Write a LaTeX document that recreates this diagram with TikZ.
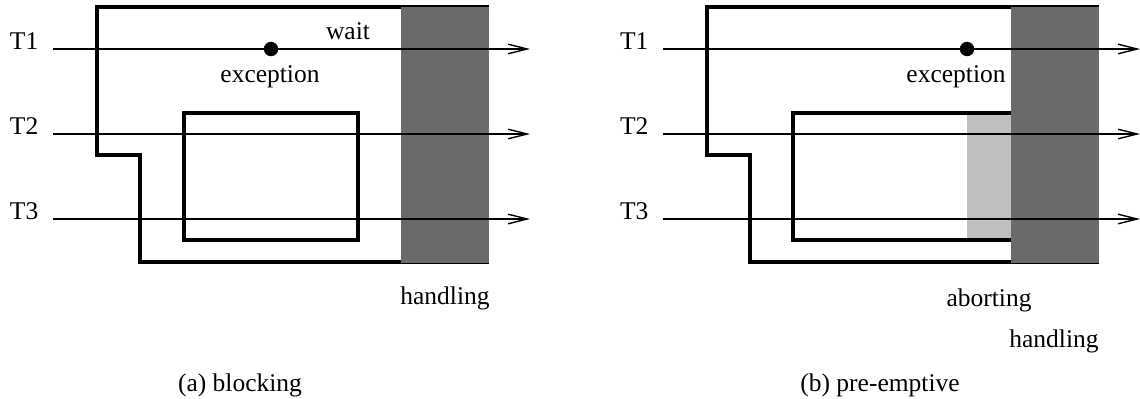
\documentclass[tikz,border=0pt]{standalone}
\usepackage{fontspec}
\setmainfont{Liberation Serif}
\usetikzlibrary{arrows.meta}
\definecolor{handlegray}{RGB}{106,106,106}
\definecolor{abortgray}{RGB}{191,191,191}

\begin{document}
\begin{tikzpicture}[x = 0.5pt, y = -0.5pt,
            every node/.style = {draw      = none,
                                inner sep = 0pt,
                                outer sep = 0pt,
                                font      = \fontsize{12.75}{15}\selectfont},
            region/.style     = {line width = 2.1pt},
            thread/.style     = {line width = 0.7pt,
                                -{Straight Barb[length = 9.5pt, width = 4.8pt]}},
            handling/.style   = {fill = handlegray},
            aborting/.style   = {fill = abortgray},
            dot/.style        = {circle, fill, minimum size = 7.2pt}
            ]
            \useasboundingbox (0,0) rectangle (1140,398);
            \newcommand{\threadfig}[3]{%
            \begin{scope}[shift = {(#2,0)}]

            \path (53,49)                        coordinate (#1 s1)
                  (530,49)                       coordinate (#1 e1)
                  (53,134)                       coordinate (#1 s2)
                  (530,134)                      coordinate (#1 e2)
                  (53,219)                       coordinate (#1 s3)
                  (530,219)                      coordinate (#1 e3);

                \draw [region] (489,7) -- (97,7) -- (97,155) -- (140,155)
                               -- (140,262) -- (489,262);
                #3
                \fill [handling] (401,7) rectangle (489,262.5);
                \foreach \t/\y in {1/49, 2/134, 3/219} {
                    \node [anchor = base west] (#1 T\t) at (10,\y) {T\t};
                    \draw [thread] (#1 s\t) -- (#1 e\t);
                }
            \end{scope}
            }
            % blocking
            \threadfig{a}{0}{%
                \draw [region] (184,113) rectangle (358,240);
            }
            \node [dot] (a raise) at (271,49) {};
            \node [anchor = base] (a wait)   at (348,39)  {wait};
            \node [anchor = base] (a exc)    at (270,82)  {exception};
            \node [anchor = base] (a handle) at (445,304) {handling};
            \node [anchor = base] (a cap)    at (240,391) {(a) blocking};

            % pre-emptive
            \threadfig{b}{610}{%
                \fill [aborting] (357,115) rectangle (401,238);
                \draw [region] (401,113) -- (183,113) -- (183,240) -- (401,240);
            }
            \node [dot] (b raise) at (967,49) {};
            \node [anchor = base] (b exc)    at (956,82)   {exception};
            \node [anchor = base] (b abort)  at (989,306)  {aborting};
            \node [anchor = base] (b handle) at (1054,347) {handling};
            \node [anchor = base] (b cap)    at (880,391)  {(b) pre-emptive};
\end{tikzpicture}
\end{document}
